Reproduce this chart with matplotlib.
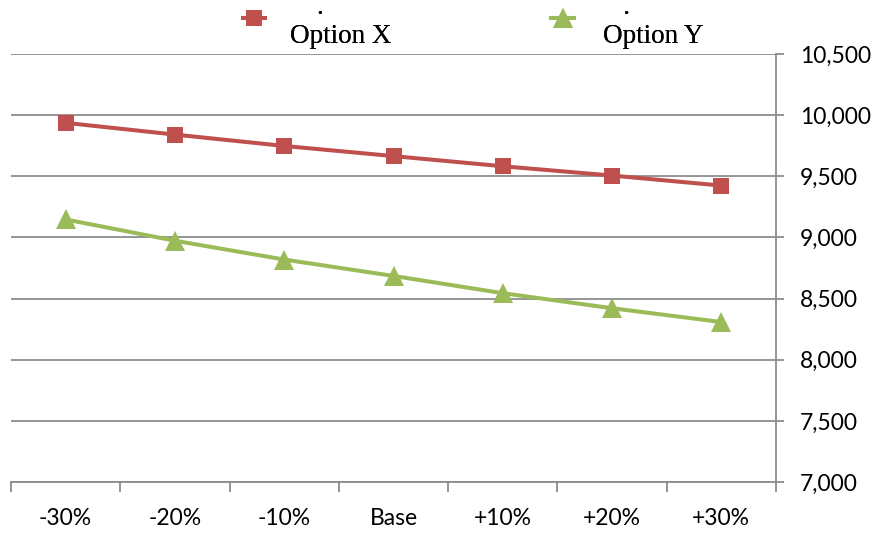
import numpy as np
import matplotlib
matplotlib.use("Agg")
import matplotlib.pyplot as plt
from matplotlib.legend_handler import HandlerLine2D
from matplotlib.ticker import FixedLocator, StrMethodFormatter, NullFormatter

# Sensitivity scenarios and results
categories = ["-30%", "-20%", "-10%", "Base", "+10%", "+20%", "+30%"]
option_x = [9937, 9841, 9748, 9665, 9582, 9506, 9424]
option_y = [9147, 8973, 8819, 8685, 8544, 8421, 8308]
y_ticks = [7000, 7500, 8000, 8500, 9000, 9500, 10000, 10500]

RED = "#C0504D"
GREEN = "#9BBB59"
GRID = "#8C8C8C"


class EndMarkerHandler(HandlerLine2D):
    """Legend handle with the marker at the right end of the line, raised a little."""

    def __init__(self, lift=0.0, **kw):
        super().__init__(**kw)
        self.lift = lift

    def get_xdata(self, legend, xdescent, ydescent, width, height, fontsize):
        xdata = np.array([-xdescent, -xdescent + width])
        return xdata, np.array([-xdescent + width])

    def create_artists(self, *args, **kwargs):
        artists = super().create_artists(*args, **kwargs)
        for a in artists:
            a.set_ydata(np.asarray(a.get_ydata()) + self.lift)
        return artists


fig = plt.figure(figsize=(8.77, 5.34), dpi=100)
ax = fig.add_axes([11 / 877, 1 - 482 / 534, (776 - 11) / 877, (482 - 54) / 534])

x = np.arange(len(categories))
lx, = ax.plot(x, option_x, color=RED, lw=2.9, marker="s", ms=12,
              mec=RED, mfc=RED, mew=0, zorder=3)
ly, = ax.plot(x, option_y, color=GREEN, lw=2.9, marker="^", ms=15,
              mec=GREEN, mfc=GREEN, mew=0, zorder=3)

ax.set_xlim(-0.5, len(categories) - 0.5)
ax.set_ylim(y_ticks[0], y_ticks[-1])

# Value axis on the right
ax.yaxis.tick_right()
ax.set_yticks(y_ticks)
ax.yaxis.set_major_formatter(StrMethodFormatter("{x:,.0f}"))
ax.grid(axis="y", color=GRID, lw=1.3, zorder=0)
ax.tick_params(axis="y", which="major", direction="out", length=6, width=1.3,
               color=GRID, pad=11, labelsize=16.5)

# Category axis: tick marks between categories, labels centred on them
ax.xaxis.set_major_locator(FixedLocator(np.arange(-0.5, len(categories), 1.0)))
ax.xaxis.set_major_formatter(NullFormatter())
ax.xaxis.set_minor_locator(FixedLocator(x))
ax.set_xticklabels(categories, minor=True)
ax.tick_params(axis="x", which="major", direction="out", length=7, width=1.3, color=GRID)
ax.tick_params(axis="x", which="minor", length=0, pad=19, labelsize=16.5)

for side in ("top", "left"):
    ax.spines[side].set_visible(False)
for side in ("bottom", "right"):
    ax.spines[side].set_color(GRID)
    ax.spines[side].set_linewidth(1.3)

for lbl in ax.get_xticklabels(minor=True) + ax.get_yticklabels():
    lbl.set_family("Lato")

# Legend entries across the top
leg_font = {"family": "Liberation Serif", "size": 19.5}
fs_px = 19.5 * 100 / 72
for line, label, x0, hl, pad in [
    (lx, "    .\nOption X", 243, 22, 25),
    (ly, "   .\nOption Y", 551, 23, 29),
]:
    leg = fig.legend([line], [label], loc="center left",
                     bbox_to_anchor=(x0 / 877, 1 - 22 / 534),
                     frameon=False, borderpad=0, borderaxespad=0,
                     handlelength=hl / fs_px, handletextpad=pad / fs_px,
                     prop=leg_font,
                     handler_map={line: EndMarkerHandler(lift=4.0 * 72 / 100)})
    fig.add_artist(leg)

fig.savefig("out.png", dpi=100)
